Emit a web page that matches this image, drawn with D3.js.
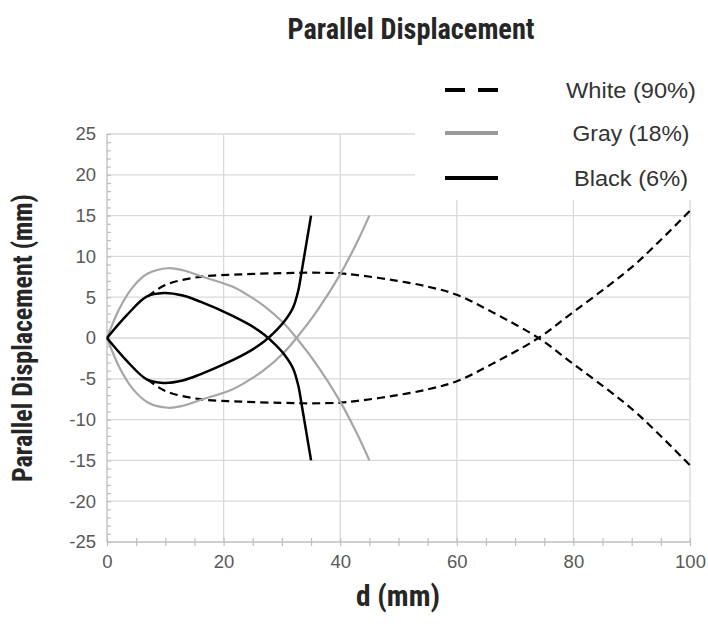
<!DOCTYPE html>
<html><head><meta charset="utf-8">
<script src="https://cdn.jsdelivr.net/npm/d3@7"></script>
<style>
body{margin:0;background:#fff;}
svg{display:block;}
</style></head>
<body>
<svg id="chart" width="708" height="633"></svg>
<script>
// ---- data ----
const whiteUpperD = [7, 10, 16, 23, 30, 35, 40, 43, 49, 55, 60, 66, 74, 80, 86, 91, 100];
const whiteUpperY = [5.1, 6.5, 7.5, 7.8, 7.95, 8.0, 7.93, 7.7, 7.1, 6.3, 5.3, 3.2, 0, -3.2, -6.4, -9.3, -15.6];
const whiteLowerD = [7, 10, 16, 23, 30, 35, 40, 43, 49, 55, 60, 66, 74, 80, 86, 91, 100];
const whiteLowerY = [-5.1, -6.5, -7.5, -7.8, -7.95, -8.0, -7.93, -7.7, -7.1, -6.3, -5.3, -3.2, 0, 3.2, 6.4, 9.3, 15.6];

const grayUpperD = [0, 2.2, 4.5, 7, 10.5, 13, 16, 21.5, 24.5, 26.8, 30.2, 32.5, 36, 40, 43, 45];
const grayUpperY = [0, 3.7, 6.3, 7.9, 8.55, 8.3, 7.6, 6.3, 5.1, 4.0, 1.9, 0, -3.3, -7.8, -11.9, -15];
const grayLowerD = [0, 2.2, 4.5, 7, 10.5, 13, 16, 21.5, 24.5, 26.8, 30.2, 32.5, 36, 40, 43, 45];
const grayLowerY = [0, -3.7, -6.3, -7.9, -8.55, -8.3, -7.6, -6.3, -5.1, -4.0, -1.9, 0, 3.3, 7.8, 11.9, 15];

const blackUpperD = [0, 3.4, 6.8, 9.7, 13, 16, 21, 24.5, 27, 29, 30.5, 31.9, 32.8, 33.4, 34.2, 35];
const blackUpperY = [0, 2.8, 5.06, 5.5, 5.2, 4.45, 2.9, 1.6, 0.4, -0.9, -2.1, -3.7, -5.8, -8.2, -11.6, -15];
const blackLowerD = [0, 3.4, 6.8, 9.7, 13, 16, 21, 24.5, 27, 29, 30.5, 31.9, 32.8, 33.4, 34.2, 35];
const blackLowerY = [0, -2.8, -5.06, -5.5, -5.2, -4.45, -2.9, -1.6, -0.4, 0.9, 2.1, 3.7, 5.8, 8.2, 11.6, 15];

const seriesNames = ["White (90%)", "Gray (18%)", "Black (6%)"];
const xTickLabels = [0, 20, 40, 60, 80, 100];
const yTickLabels = [-25, -20, -15, -10, -5, 0, 5, 10, 15, 20, 25];
const titleText = "Parallel Displacement";
const xTitle = "d (mm)";
const yTitle = "Parallel Displacement (mm)";

// ---- drawing ----
const svg = d3.select("#chart");
const x = d3.scaleLinear().domain([0, 100]).range([107, 690]);
const y = d3.scaleLinear().domain([-25, 25]).range([542, 134]);
const narrow = "'Liberation Sans Narrow','Arial Narrow','Roboto Condensed','Liberation Sans',Arial,sans-serif";
const regular = "'Liberation Sans',Arial,Helvetica,sans-serif";
const gridC = "#d9d9d9", axisC = "#bfbfbf";

// grid
svg.append("g").selectAll("line").data(yTickLabels.filter(v => v > -25)).join("line")
  .attr("x1", x(0)).attr("x2", x(100)).attr("y1", d => y(d)).attr("y2", d => y(d))
  .attr("stroke", gridC).attr("stroke-width", 1.3);
svg.append("g").selectAll("line").data(xTickLabels.filter(v => v > 0)).join("line")
  .attr("x1", d => x(d)).attr("x2", d => x(d)).attr("y1", y(25)).attr("y2", y(-25))
  .attr("stroke", gridC).attr("stroke-width", 1.3);

// minor y ticks (inside)
svg.append("g").attr("transform", `translate(${x(0)},0)`)
  .call(d3.axisRight(y).tickValues(d3.range(-25, 26, 1)).tickSize(4).tickFormat(""))
  .call(g => g.select(".domain").remove())
  .call(g => g.selectAll("line").attr("stroke", axisC).attr("stroke-width", 1.2));

// x ticks crossing axis
svg.append("g").attr("transform", `translate(0,${y(-25) - 4})`)
  .call(d3.axisBottom(x).tickValues(d3.range(0, 101, 5)).tickSize(8).tickPadding(9)
    .tickFormat(d => xTickLabels.includes(d) ? String(d) : ""))
  .call(g => g.select(".domain").remove())
  .call(g => g.selectAll("line").attr("stroke", axisC).attr("stroke-width", 1.2))
  .call(g => g.selectAll("text").attr("fill", "#595959").attr("font-family", regular).attr("font-size", 18.5));

// y labels
svg.append("g").attr("transform", `translate(${x(0)},0)`)
  .call(d3.axisLeft(y).tickValues(yTickLabels).tickSize(0).tickPadding(11).tickFormat(d => String(d)))
  .call(g => g.select(".domain").remove())
  .call(g => g.selectAll("text").attr("fill", "#595959").attr("font-family", regular).attr("font-size", 18.5));

// axis lines
svg.append("line").attr("x1", x(0)).attr("x2", x(0)).attr("y1", y(25)).attr("y2", y(-25))
  .attr("stroke", axisC).attr("stroke-width", 1.3);
svg.append("line").attr("x1", x(0)).attr("x2", x(100)).attr("y1", y(-25)).attr("y2", y(-25))
  .attr("stroke", axisC).attr("stroke-width", 1.3);

// legend background box
svg.append("rect").attr("x", 415).attr("y", 60).attr("width", 293).attr("height", 140).attr("fill", "#fff");

const line = d3.line().x(d => x(d[0])).y(d => y(d[1])).curve(d3.curveCatmullRom.alpha(0.5));
const zip = (a, b) => a.map((v, i) => [v, b[i]]);

const series = [
  {pts: [zip(whiteUpperD, whiteUpperY), zip(whiteLowerD, whiteLowerY)], color: "#000", w: 2.2, dash: "8,5"},
  {pts: [zip(grayUpperD, grayUpperY), zip(grayLowerD, grayLowerY)], color: "#a6a6a6", w: 2.2, dash: null},
  {pts: [zip(blackUpperD, blackUpperY), zip(blackLowerD, blackLowerY)], color: "#000", w: 2.5, dash: null}
];
series.forEach(s => {
  s.pts.forEach(p => {
    svg.append("path").attr("d", line(p)).attr("fill", "none")
      .attr("stroke", s.color).attr("stroke-width", s.w)
      .attr("stroke-dasharray", s.dash).attr("stroke-linecap", "butt");
  });
});

// legend
const legY = [90, 133, 178];
const legW = [130, 117, 114];
const legStyle = [
  {c: "#000", dash: "20,13"}, {c: "#999", dash: null}, {c: "#000", dash: null}
];
seriesNames.forEach((n, i) => {
  svg.append("line").attr("x1", 445).attr("x2", 498).attr("y1", legY[i]).attr("y2", legY[i])
    .attr("stroke", legStyle[i].c).attr("stroke-width", 4).attr("stroke-dasharray", legStyle[i].dash);
  svg.append("text").attr("x", 631).attr("y", legY[i] + 8).attr("text-anchor", "middle")
    .attr("font-family", regular).attr("font-size", 22).attr("fill", "#333")
    .attr("textLength", legW[i]).attr("lengthAdjust", "spacingAndGlyphs").text(n);
});

// titles
svg.append("text").attr("x", 411).attr("y", 39).attr("text-anchor", "middle")
  .attr("font-family", narrow).attr("font-weight", "bold").attr("font-size", 29).attr("fill", "#262626")
  .attr("textLength", 247).attr("lengthAdjust", "spacingAndGlyphs").text(titleText);
svg.append("text").attr("x", 398).attr("y", 606).attr("text-anchor", "middle")
  .attr("font-family", narrow).attr("font-weight", "bold").attr("font-size", 29).attr("fill", "#262626")
  .attr("textLength", 84).attr("lengthAdjust", "spacingAndGlyphs").text(xTitle);
svg.append("text").attr("transform", "translate(32,338) rotate(-90)").attr("text-anchor", "middle")
  .attr("font-family", narrow).attr("font-weight", "bold").attr("font-size", 27).attr("fill", "#262626")
  .attr("textLength", 288).attr("lengthAdjust", "spacingAndGlyphs").text(yTitle);
</script>
</body></html>
